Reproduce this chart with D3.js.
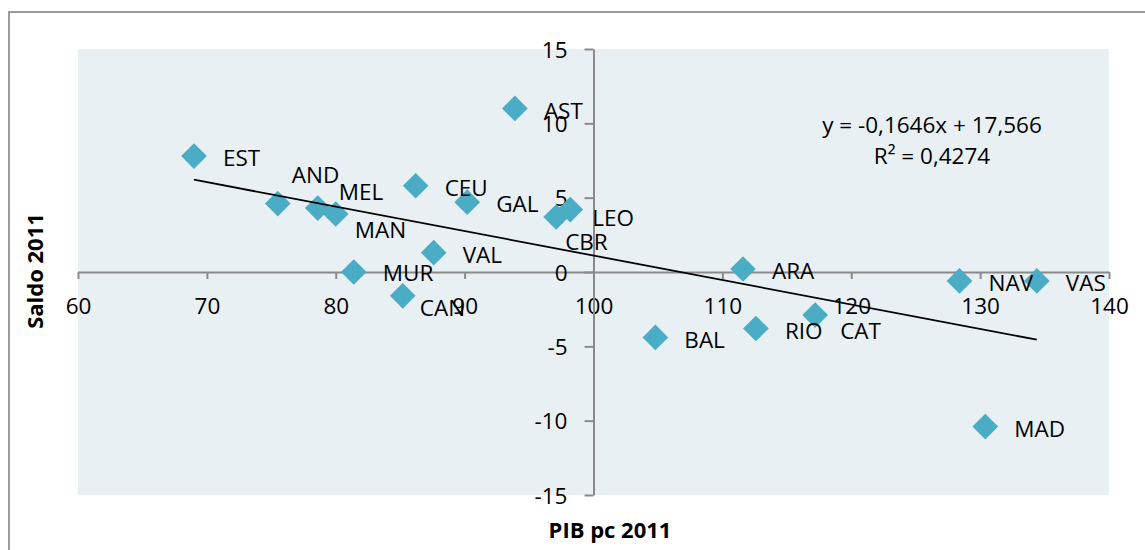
<!DOCTYPE html>
<html>
<head>
<meta charset="utf-8">
<script src="https://cdn.jsdelivr.net/npm/d3@7"></script>
<style>
  html, body { margin: 0; padding: 0; background: #fff; }
  svg { display: block; }
  text { font-family: "Open Sans", sans-serif; }
</style>
</head>
<body>
<svg id="chart" width="1145" height="550"></svg>
<script>
// ---- data ----
const regions = ["EST","AND","MEL","MAN","MUR","CAN","CEU","VAL","GAL","AST","CBR","LEO","BAL","ARA","RIO","CAT","NAV","MAD","VAS"];
const pibPc2011 = [69.0, 75.5, 78.6, 80.0, 81.4, 85.2, 86.2, 87.6, 90.2, 93.9, 97.1, 98.2, 104.8, 111.6, 112.6, 117.2, 128.4, 130.4, 134.4];
const saldo2011 = [7.8, 4.6, 4.3, 3.9, 0.0, -1.6, 5.8, 1.3, 4.7, 11.0, 3.7, 4.2, -4.4, 0.2, -3.8, -2.9, -0.6, -10.4, -0.6];
const xTicks = [60, 70, 80, 90, 100, 110, 120, 130, 140];
const yTicks = [-15, -10, -5, 0, 5, 10, 15];
const trendSlope = -0.1646;
const trendIntercept = 17.566;
const trendEquation = "y = -0,1646x + 17,566";
const trendR2 = "R² = 0,4274";
const xTitle = "PIB pc 2011";
const yTitle = "Saldo 2011";

// ---- layout ----
const svg = d3.select("#chart");
const plot = { left: 78, right: 1109, top: 49, bottom: 495 };
const x = d3.scaleLinear().domain([60, 140]).range([plot.left, plot.right]);
const y = d3.scaleLinear().domain([-15, 15]).range([plot.bottom, plot.top]);
const fontSize = 22.5;
const axisColor = "#8a8a8a";
const markerColor = "#4bacc6";
const fmt = d => String(d);   // plain hyphen-minus like the original

// outer chart border (cropped at right/bottom)
svg.append("rect")
  .attr("x", 9).attr("y", 12).attr("width", 1200).attr("height", 600)
  .attr("fill", "#fff").attr("stroke", "#9a9a9a").attr("stroke-width", 2);

// plot area
svg.append("rect")
  .attr("x", plot.left).attr("y", plot.top)
  .attr("width", plot.right - plot.left).attr("height", plot.bottom - plot.top)
  .attr("fill", "#e9f0f4");

// x axis (crosses at y = 0)
const gx = svg.append("g")
  .attr("transform", `translate(0,${y(0)})`)
  .call(d3.axisBottom(x).tickValues(xTicks).tickSize(7).tickSizeOuter(0).tickFormat(fmt));
// y axis (crosses at x = 100)
const gy = svg.append("g")
  .attr("transform", `translate(${x(100)},0)`)
  .call(d3.axisLeft(y).tickValues(yTicks).tickSize(9).tickSizeOuter(0).tickFormat(fmt));

[gx, gy].forEach(g => {
  g.select(".domain").attr("stroke", axisColor).attr("stroke-width", 2);
  g.selectAll(".tick line").attr("stroke", axisColor).attr("stroke-width", 2);
  g.selectAll(".tick text")
    .attr("fill", "#000")
    .style("font-size", fontSize + "px")
    .style("font-family", "'Open Sans', sans-serif");
});
gx.selectAll(".tick text").attr("y", 34).attr("dy", "0.36em");
gy.selectAll(".tick text").attr("x", -26).attr("dy", "0.36em");

// markers
const pts = regions.map((r, i) => ({ name: r, px: pibPc2011[i], sy: saldo2011[i] }));
const diamond = d3.symbol().type(d3.symbolSquare).size(330);
svg.append("g").selectAll("path")
  .data(pts).join("path")
  .attr("d", diamond)
  .attr("transform", d => `translate(${x(d.px)},${y(d.sy)}) rotate(45)`)
  .attr("fill", markerColor);

// data labels (default: right of marker; some moved)
const labelShift = {
  AND: [14, -29], MEL: [21, -16], MAN: [19, 16], LEO: [22, 8],
  CBR: [9, 25], CAN: [17, 12], CAT: [25, 16], MUR: [29, 1]
};
svg.append("g").selectAll("text")
  .data(pts).join("text")
  .attr("x", d => x(d.px) + (labelShift[d.name] ? labelShift[d.name][0] : 29))
  .attr("y", d => y(d.sy) + (labelShift[d.name] ? labelShift[d.name][1] : 2))
  .attr("dy", "0.36em")
  .style("font-size", fontSize + "px")
  .attr("fill", "#000")
  .text(d => d.name);

// linear trendline
const xMin = d3.min(pibPc2011), xMax = d3.max(pibPc2011);
svg.append("line")
  .attr("x1", x(xMin)).attr("y1", y(trendSlope * xMin + trendIntercept))
  .attr("x2", x(xMax)).attr("y2", y(trendSlope * xMax + trendIntercept))
  .attr("stroke", "#000").attr("stroke-width", 1.8);

// trendline equation
svg.append("text").attr("x", 932).attr("y", 125).attr("dy", "0.36em")
  .attr("text-anchor", "middle").style("font-size", fontSize + "px").text(trendEquation);
svg.append("text").attr("x", 932).attr("y", 156).attr("dy", "0.36em")
  .attr("text-anchor", "middle").style("font-size", fontSize + "px").text(trendR2);

// axis titles
svg.append("text").attr("x", 610).attr("y", 530).attr("dy", "0.36em")
  .attr("text-anchor", "middle").style("font-size", "22px").style("font-weight", "bold")
  .text(xTitle);
svg.append("text").attr("transform", "translate(35,271) rotate(-90)").attr("dy", "0.36em")
  .attr("text-anchor", "middle").style("font-size", "22px").style("font-weight", "bold")
  .text(yTitle);
</script>
</body>
</html>
